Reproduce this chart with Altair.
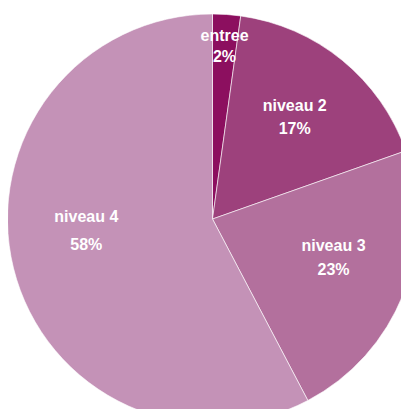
import altair as alt
import pandas as pd

categories = ["entree", "niveau 2", "niveau 3", "niveau 4"]
values = [2.2, 17.4, 22.7, 57.7]
pct_labels = ["2%", "17%", "23%", "58%"]
colors = ["#8C0F5F", "#9D417C", "#B3709D", "#C492B7"]

df = pd.DataFrame({
    "cat": categories,
    "val": values,
    "order": list(range(len(categories))),
    "label": [f"{c}\n{p}" for c, p in zip(categories, pct_labels)],
})

base = alt.Chart(df).encode(
    theta=alt.Theta("val:Q", stack=True),
    order=alt.Order("order:Q"),
    x=alt.value(204.5),
    y=alt.value(211),
)

arcs = base.mark_arc(outerRadius=205, stroke="white", strokeWidth=0.6).encode(
    color=alt.Color("cat:N", scale=alt.Scale(domain=categories, range=colors), legend=None)
)

text_style = dict(font="Liberation Sans", fontSize=16, fontWeight="bold", color="white",
                  lineBreak="\n")

# per-label placement (radius, vertical nudge, line spacing)
placements = {
    "entree": (174, -9, 21),
    "niveau 2": (130, -12, 23),
    "niveau 3": (130, -20, 24),
    "niveau 4": (130, -33, 28),
}

texts = []
for cat in categories:
    r, dy, lh = placements[cat]
    texts.append(
        base.mark_text(radius=r, dy=dy, lineHeight=lh, **text_style)
        .encode(
            text="label:N",
            opacity=alt.condition(alt.datum.cat == cat, alt.value(1), alt.value(0)),
        )
    )

chart = alt.layer(arcs, *texts).properties(
    width=393, height=401, padding=0, autosize=alt.AutoSizeParams(type="none")
).configure_view(stroke=None)

chart.save("out.html", embed_options={"renderer": "svg", "actions": False})
